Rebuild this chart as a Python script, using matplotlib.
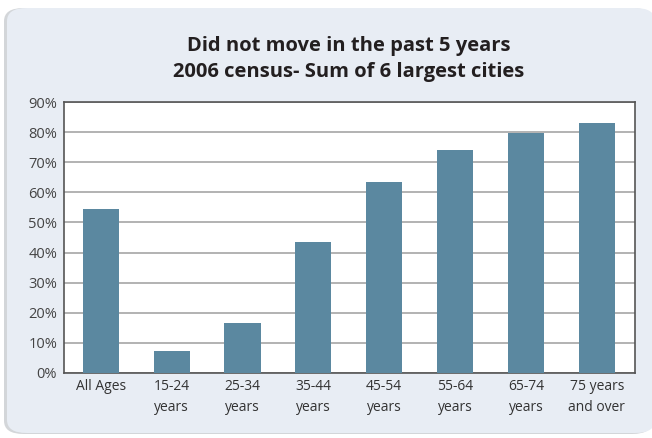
import matplotlib
matplotlib.use("Agg")
import matplotlib.pyplot as plt
from matplotlib.patches import FancyBboxPatch
from matplotlib.ticker import FuncFormatter, MultipleLocator

categories = ["All Ages", "15-24\nyears", "25-34\nyears", "35-44\nyears",
              "45-54\nyears", "55-64\nyears", "65-74\nyears", "75 years\nand over"]
values = [54.5, 7.3, 16.6, 43.5, 63.5, 74.1, 79.7, 83.1]
title = "Did not move in the past 5 years\n2006 census- Sum of 6 largest cities"

W, H = 652, 438
fig = plt.figure(figsize=(W / 100, H / 100), dpi=100)
fig.patch.set_facecolor("white")

# panel shadow and rounded background
shadow = FancyBboxPatch((4 / W, 4 / H), (W - 4) / W, (H - 12) / H,
                        boxstyle="round,pad=0,rounding_size=0.03",
                        transform=fig.transFigure, facecolor="#c9ccd0",
                        edgecolor="none", zorder=0, alpha=0.8)
panel = FancyBboxPatch((7 / W, 5 / H), (W - 4) / W, (H - 13) / H,
                       boxstyle="round,pad=0,rounding_size=0.03",
                       transform=fig.transFigure, facecolor="#e8edf4",
                       edgecolor="none", zorder=0)
fig.patches.extend([shadow, panel])

ax = fig.add_axes([64 / W, 1 - 373 / H, (635 - 64) / W, (373 - 102) / H])
ax.set_zorder(2)
ax.set_facecolor("white")
x = range(len(categories))
ax.bar(x, values, width=0.51, color="#5b88a0", zorder=3)
ax.set_xlim(-0.52, 7.54)
ax.set_ylim(0, 90)
ax.yaxis.set_major_locator(MultipleLocator(10))
ax.yaxis.set_major_formatter(FuncFormatter(lambda v, p: f"{int(v)}%"))
ax.grid(axis="y", color="#adadad", linewidth=1.3, zorder=1)
ax.set_xticks(list(x))
ax.set_xticklabels(categories, fontsize=10, color="#333333",
                   family="Open Sans", linespacing=1.6)
for lab in ax.get_yticklabels():
    lab.set_fontsize(10.5)
    lab.set_color("#444444")
    lab.set_family("Open Sans")
ax.tick_params(axis="both", length=0, pad=4)
ax.tick_params(axis="y", pad=5)
for s in ax.spines.values():
    s.set_color("#555555")
    s.set_linewidth(1.2)

t = fig.text(349 / W, 1 - 59 / H, title, ha="center", va="center",
             fontsize=14.5, fontweight="bold", family="Open Sans",
             color="#231f20", linespacing=1.42)
t.set_zorder(3)

fig.savefig("out.png", dpi=100)
